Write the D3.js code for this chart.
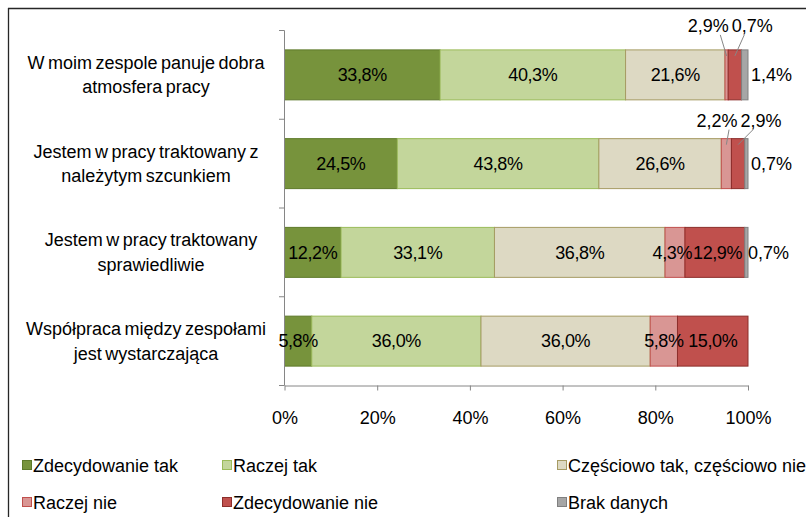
<!DOCTYPE html>
<html>
<head>
<meta charset="utf-8">
<script src="https://cdn.jsdelivr.net/npm/d3@7/dist/d3.min.js"></script>
<style>
  html, body { margin: 0; padding: 0; background: #fff; }
  svg { display: block; font-family: "Liberation Sans", Arial, sans-serif; }
</style>
</head>
<body>
<svg id="chart" width="806" height="517"></svg>
<script>
// ---------- DATA ----------
const categoryLines = [
  ["W moim zespole panuje dobra", "atmosfera pracy"],
  ["Jestem w pracy traktowany z", "należytym szcunkiem"],
  ["Jestem w pracy traktowany", "sprawiedliwie"],
  ["Współpraca między zespołami", "jest wystarczająca"]
];
const seriesNames = ["Zdecydowanie tak", "Raczej tak", "Częściowo tak, częściowo nie",
                     "Raczej nie", "Zdecydowanie nie", "Brak danych"];
const zdecydowanieTak = [33.8, 24.5, 12.2, 5.8];
const raczejTak       = [40.3, 43.8, 33.1, 36.0];
const czesciowo       = [21.6, 26.6, 36.8, 36.0];
const raczejNie       = [0.7, 2.2, 4.3, 5.8];
const zdecydowanieNie = [2.9, 2.9, 12.9, 15.0];
const brakDanych      = [1.4, 0.7, 0.7, 0];
const tickValues = [0, 20, 40, 60, 80, 100];
// callout label texts (above bar) for rows with very small segments, as printed
const calloutLabels = [["2,9%", "0,7%"], ["2,2%", "2,9%"], null, null];

// ---------- STYLE ----------
const fills   = ["#77933C", "#C3D69B", "#DDD9C3", "#D99694", "#C0504D", "#A6A6A6"];
const strokes = ["#5E7A2A", "#9BBB59", "#A69B63", "#C0504D", "#8C2E2B", "#808080"];

const allSeries = [zdecydowanieTak, raczejTak, czesciowo, raczejNie, zdecydowanieNie, brakDanych];
const svg = d3.select("#chart");
const fontSize = 18;

// frame
svg.append("line").attr("x1", 8).attr("x2", 806).attr("y1", 8.5).attr("y2", 8.5)
  .attr("stroke", "#262626").attr("stroke-width", 1.3);
svg.append("line").attr("x1", 8.5).attr("x2", 8.5).attr("y1", 8).attr("y2", 517)
  .attr("stroke", "#262626").attr("stroke-width", 1.3);

const x = d3.scaleLinear().domain([0, 100]).range([284.5, 748]);
const y = d3.scaleBand().domain(d3.range(categoryLines.length)).range([30.5, 385.5])
  .paddingInner(0.437).paddingOuter(0.2185);

// rows: normalised (100% stacked)
const rows = categoryLines.map((c, i) => {
  const vals = allSeries.map(s => s[i]);
  const total = d3.sum(vals);
  let acc = 0;
  return vals.map((v, k) => {
    const s0 = acc / total * 100; acc += v;
    const s1 = acc / total * 100;
    return { row: i, k, v, s0, s1 };
  });
});

const fmt = v => d3.format(".1f")(v).replace(".", ",") + "%";

// bars
const g = svg.append("g");
rows.forEach(r => {
  g.selectAll(null).data(r.filter(d => d.v > 0)).enter().append("rect")
    .attr("x", d => x(d.s0))
    .attr("y", d => y(d.row))
    .attr("width", d => x(d.s1) - x(d.s0))
    .attr("height", y.bandwidth())
    .attr("fill", d => fills[d.k])
    .attr("stroke", d => strokes[d.k])
    .attr("stroke-width", 1);
});

// axes
const axisColor = "#868686";
const xAxis = svg.append("g").attr("transform", "translate(0,385.5)")
  .call(d3.axisBottom(x).tickValues(tickValues).tickSize(5).tickSizeOuter(0).tickFormat(d => d + "%"));
xAxis.select(".domain").attr("stroke", axisColor);
xAxis.selectAll(".tick line").attr("stroke", axisColor);
xAxis.selectAll(".tick text").attr("font-size", fontSize).attr("fill", "#000")
  .attr("font-family", "Liberation Sans, Arial, sans-serif").attr("y", 32).attr("dy", "0.35em");

// y axis line with ticks at band boundaries
const yAxis = svg.append("g");
yAxis.append("line").attr("x1", 284.5).attr("x2", 284.5).attr("y1", 30.5).attr("y2", 385.5).attr("stroke", axisColor);
const boundaries = d3.range(categoryLines.length + 1).map(i => 30.5 + i * y.step());
yAxis.selectAll(null).data(boundaries).enter().append("line")
  .attr("x1", 279).attr("x2", 284.5).attr("y1", d => d).attr("y2", d => d).attr("stroke", axisColor);

// category labels
categoryLines.forEach((lines, i) => {
  const cy = y(i) + y.bandwidth() / 2;
  const t = svg.append("text").attr("text-anchor", "middle").attr("font-size", fontSize)
    .attr("fill", "#000").attr("word-spacing", "-1.5px");
  lines.forEach((ln, j) => {
    t.append("tspan").attr("x", i === 2 ? 151 : 146).attr("y", cy + (j - 0.5) * 24.5).attr("dy", "0.35em").text(ln);
  });
});

// data labels
rows.forEach((r, i) => {
  const cy = y(i) + y.bandwidth() / 2;
  const barTop = y(i);
  const co = calloutLabels[i];
  const inBar = [];
  r.forEach(d => {
    if (d.v <= 0) return;
    if (d.k === 5) {
      svg.append("text").attr("x", x(d.s1) + (i === 2 ? 0 : 3)).attr("y", cy).attr("dy", "0.35em")
        .attr("font-size", fontSize).attr("fill", "#000").text(fmt(d.v));
      return;
    }
    if (co && (d.k === 3 || d.k === 4)) return;
    const t = svg.append("text").attr("x", (x(d.s0) + x(d.s1)) / 2).attr("y", cy).attr("dy", "0.35em")
      .attr("text-anchor", "middle").attr("font-size", fontSize).attr("fill", "#000")
      .attr("letter-spacing", "-0.4px").text(fmt(d.v));
    inBar.push({ t, cx: (x(d.s0) + x(d.s1)) / 2, w: t.node().getComputedTextLength() });
  });
  // nudge touching neighbours apart a little
  for (let a = 1; a < inBar.length; a++) {
    const L = inBar[a - 1], R = inBar[a];
    const gap = (R.cx - R.w / 2) - (L.cx + L.w / 2);
    if (gap < 1) {
      const push = (1 - gap) / 2;
      L.cx -= push; R.cx += push;
      L.t.attr("x", L.cx); R.t.attr("x", R.cx);
    }
  }
  if (co) {
    const segs = [r[3], r[4]];
    const mid = (x(segs[0].s0) + x(segs[1].s1)) / 2;
    const shift = i === 0 ? -3 : 6;
    const cx = [mid - 22 + shift, mid + 22 + shift];
    const ty = barTop - 22 + (i === 0 ? -2 : 4);
    co.forEach((txt, j) => {
      svg.append("text").attr("x", cx[j]).attr("y", ty).attr("dy", "0.35em")
        .attr("text-anchor", "middle").attr("font-size", fontSize).attr("fill", "#000").text(txt);
      const seg = segs[j];
      const ex = (x(seg.s0) + x(seg.s1)) / 2;
      const sx = j === 0 ? cx[j] + 12 : cx[j] - 8;
      svg.append("line").attr("x1", sx).attr("y1", ty + 9).attr("x2", ex).attr("y2", barTop + 6)
        .attr("stroke", "#868686").attr("stroke-width", 1);
    });
  }
});

// legend
const legendPos = [[22, 466], [222, 466], [557, 466], [22, 503], [222, 503], [557, 503]];
seriesNames.forEach((name, k) => {
  const [lx, ly] = legendPos[k];
  svg.append("rect").attr("x", lx + 0.5).attr("y", ly - 5.5).attr("width", 9).attr("height", 9)
    .attr("fill", fills[k]).attr("stroke", strokes[k]);
  svg.append("text").attr("x", lx + 11).attr("y", ly).attr("dy", "0.35em")
    .attr("font-size", fontSize).attr("fill", "#000").text(name);
});
</script>
</body>
</html>
